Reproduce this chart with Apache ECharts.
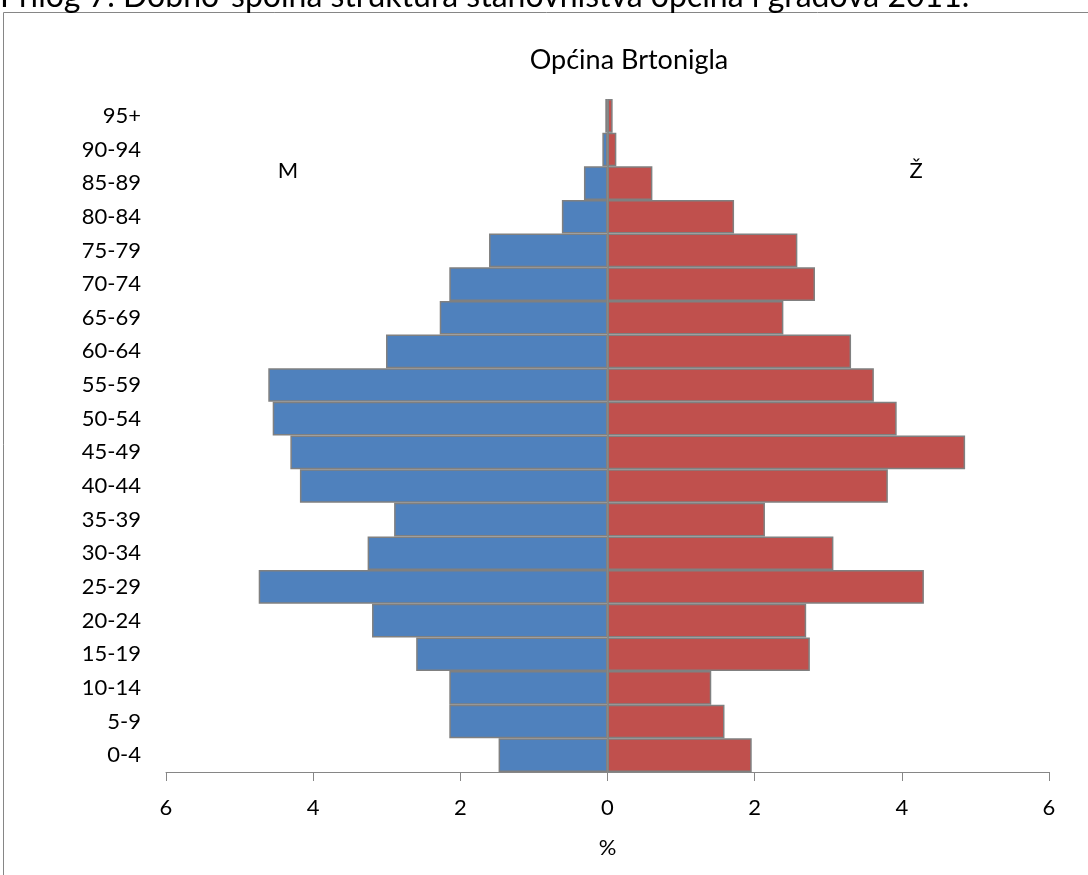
<!DOCTYPE html>
<html>
<head>
<meta charset="utf-8">
<script src="https://cdn.jsdelivr.net/npm/echarts@6/dist/echarts.min.js"></script>
<style>html,body{margin:0;padding:0;background:#fff}#c{width:1088px;height:875px}</style>
</head>
<body>
<div id="c"></div>
<script>
const categories = ["0-4","5-9","10-14","15-19","20-24","25-29","30-34","35-39","40-44","45-49","50-54","55-59","60-64","65-69","70-74","75-79","80-84","85-89","90-94","95+"];
const male = [1.48,2.15,2.15,2.60,3.20,4.74,3.26,2.90,4.18,4.31,4.55,4.61,3.01,2.28,2.15,1.61,0.62,0.32,0.07,0.03];
const female = [1.96,1.59,1.41,2.75,2.70,4.30,3.07,2.14,3.81,4.86,3.93,3.62,3.31,2.39,2.82,2.58,1.72,0.61,0.12,0.07];
const xTicks = [-6,-4,-2,0,2,4,6];
const FONT = 'Lato, "Noto Sans", sans-serif';

const chart = echarts.init(document.getElementById('c'), null, {renderer:'canvas'});
chart.setOption({
  animation:false,
  backgroundColor:'#fff',
  grid:{left:166, right:39, top:99, bottom:103, containLabel:false},
  xAxis:{
    type:'value', min:xTicks[0], max:xTicks[xTicks.length-1], interval:2,
    axisLine:{show:true, lineStyle:{color:'#868686', width:1}},
    axisTick:{show:true, length:9, lineStyle:{color:'#868686'}},
    splitLine:{show:false},
    axisLabel:{margin:25, color:'#000', fontSize:22, fontFamily:FONT, formatter:v=>String(Math.abs(v))},
    name:'%', nameLocation:'middle', nameGap:65,
    nameTextStyle:{color:'#000', fontSize:22, fontFamily:FONT}
  },
  yAxis:{
    type:'category', data:categories,
    axisLine:{show:false, onZero:false},
    axisTick:{show:false},
    axisLabel:{margin:25, color:'#000', fontSize:22, fontFamily:FONT}
  },
  series:[
    {name:'M', type:'bar', stack:'a', data:male.map(v=>-v), barWidth:'100%',
     itemStyle:{color:'#4F81BD', borderColor:'#808080', borderWidth:1.5},
     markLine:{silent:true, symbol:'none', label:{show:false},
       lineStyle:{color:'#808080', width:1.5, type:'solid'},
       data:[{xAxis:0}]}
    },
    {name:'Ž', type:'bar', stack:'a', data:female, barWidth:'100%',
     itemStyle:{color:'#C0504D', borderColor:'#808080', borderWidth:1.5}}
  ],
  graphic:[
    {type:'rect', shape:{x:3.5, y:12.5, width:1100, height:900}, style:{fill:'none', stroke:'#868686', lineWidth:1}, silent:true},
    {type:'text', x:0, y:13, style:{text:'Prilog 7. Dobno-spolna struktura stanovništva općina i gradova 2011.', fontSize:32, fontFamily:FONT, fill:'#000', textAlign:'left', textVerticalAlign:'bottom'}},
    {type:'text', x:629, y:60, style:{text:'Općina Brtonigla', fontSize:27, fontFamily:FONT, fill:'#000', textAlign:'center', textVerticalAlign:'middle'}},
    {type:'text', x:288, y:171, style:{text:'M', fontSize:22, fontFamily:FONT, fill:'#000', textAlign:'center', textVerticalAlign:'middle'}},
    {type:'text', x:916, y:171, style:{text:'Ž', fontSize:22, fontFamily:FONT, fill:'#000', textAlign:'center', textVerticalAlign:'middle'}}
  ]
});
</script>
</body>
</html>
